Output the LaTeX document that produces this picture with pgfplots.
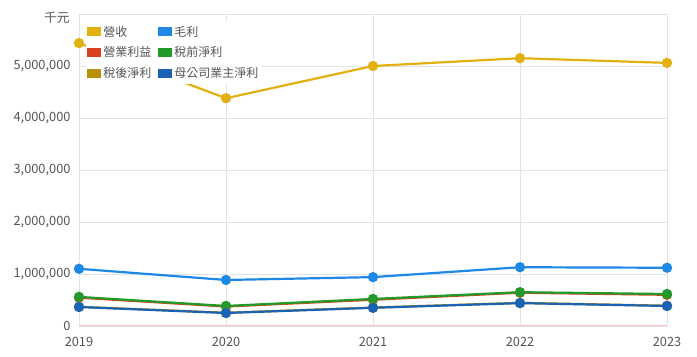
\documentclass[border=0pt]{standalone}
\usepackage{fontspec}
\setmainfont{Noto Sans CJK TC}
\usepackage{pgfplots}
\pgfplotsset{compat=1.18}
\definecolor{cRev}{HTML}{E3B012}
\definecolor{cGross}{HTML}{1E88E5}
\definecolor{cOp}{HTML}{D9411E}
\definecolor{cPre}{HTML}{229A2A}
\definecolor{cAfter}{HTML}{B8900A}
\definecolor{cParent}{HTML}{1A62B3}
\definecolor{cGrid}{HTML}{E3E3E3}
\definecolor{cTxt}{HTML}{555555}
\begin{document}
\begin{tikzpicture}
\begin{axis}[
  name=ax,
  scale only axis,
  width=588pt, height=312pt,
  xmin=2019, xmax=2023, ymin=0, ymax=6000000,
  xtick={2019,2020,2021,2022,2023},
  xticklabels={2019,2020,2021,2022,2023},
  ytick={0,1000000,2000000,3000000,4000000,5000000,6000000},
  yticklabels={0,{1,000,000},{2,000,000},{3,000,000},{4,000,000},{5,000,000},{}},
  scaled y ticks=false,
  major tick length=0pt,
  axis line style={draw=none},
  grid=major,
  grid style={cGrid, line width=0.8pt},
  extra y ticks={0}, extra y tick labels={},
  extra y tick style={grid style={draw=red!25, line width=1pt}},
  tick label style={font=\fontsize{12.8}{14}\selectfont, text=cTxt},
  yticklabel style={xshift=-5pt},
  xticklabel style={yshift=-8pt},
  /pgf/number format/assume math mode=true,
  clip=false,
  every axis plot/.append style={line width=2.2pt, mark=*, mark size=4pt, mark options={solid}},
  legend style={at={(0.012,0.978)}, anchor=north west, fill=white, draw=none,
    font=\fontsize{12}{13}\selectfont, text=cTxt, row sep=5pt,
    inner xsep=1pt, inner ysep=3pt},
  legend columns=2,
  legend cell align=left,
  /tikz/every even column/.append style={column sep=5pt},
  legend image code/.code={\path[#1, draw=none, fill] (0pt,-4.5pt) rectangle (14pt,4.5pt);},
]
\addplot[color=cRev] coordinates {(2019,5440000) (2020,4380000) (2021,5000000) (2022,5150000) (2023,5060000)};
\addlegendentry{營收}
\addplot[color=cGross] coordinates {(2019,1100000) (2020,885000) (2021,940000) (2022,1130000) (2023,1120000)};
\addlegendentry{毛利}
\addplot[color=cOp] coordinates {(2019,545000) (2020,375000) (2021,505000) (2022,640000) (2023,600000)};
\addlegendentry{營業利益}
\addplot[color=cPre] coordinates {(2019,560000) (2020,385000) (2021,520000) (2022,650000) (2023,615000)};
\addlegendentry{稅前淨利}
\addplot[color=cAfter] coordinates {(2019,370000) (2020,255000) (2021,355000) (2022,445000) (2023,390000)};
\addlegendentry{稅後淨利}
\addplot[color=cParent] coordinates {(2019,365000) (2020,250000) (2021,350000) (2022,440000) (2023,385000)};
\addlegendentry{母公司業主淨利}
\node[anchor=east, text=cTxt, font=\fontsize{12.8}{14}\selectfont, inner sep=0pt] at ([xshift=-9pt,yshift=-4pt]rel axis cs:0,1) {千元};
\end{axis}
\pgfresetboundingbox
\path ([xshift=-79pt,yshift=-31pt]ax.south west) rectangle ([xshift=30pt,yshift=14pt]ax.north east);
\end{tikzpicture}
\end{document}
